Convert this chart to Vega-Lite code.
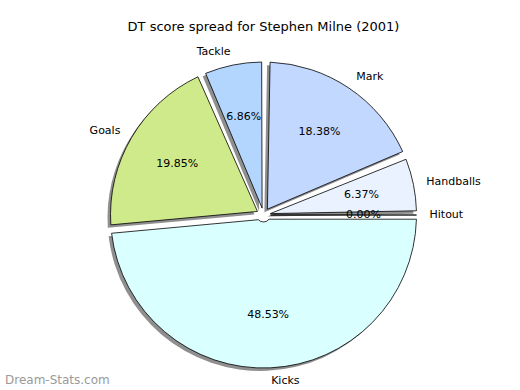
{
  "$schema": "https://vega.github.io/schema/vega-lite/v6.json",
  "width": 520,
  "height": 390,
  "autosize": {"type": "fit", "contains": "padding"},
  "padding": {"top": 21, "bottom": 0, "left": 5, "right": 5},
  "background": "white",
  "config": {"view": {"stroke": null}},
  "title": {
    "text": "DT score spread for Stephen Milne (2001)",
    "font": "DejaVu Sans",
    "fontSize": 13,
    "fontWeight": "normal",
    "color": "black",
    "offset": 6
  },
  "data": {
    "values": [
      {"label": "Hitout", "pct": 0.0},
      {"label": "Handballs", "pct": 0.0637},
      {"label": "Mark", "pct": 0.1838},
      {"label": "Tackle", "pct": 0.0686},
      {"label": "Goals", "pct": 0.1985},
      {"label": "Kicks", "pct": 0.4853}
    ]
  },
  "transform": [{"stack": "pct", "groupby": [], "as": ["v0", "v1"]}],
  "resolve": {"scale": {"theta": "shared"}},
  "layer": [
    {
      "mark": {"type": "arc", "outerRadius": 153, "innerRadius": 7, "padAngle": 0.055, "fill": "#8f8f8f", "xOffset": -3, "yOffset": 3},
      "encoding": {
        "theta": {"field": "v0", "type": "quantitative", "stack": null, "scale": {"domain": [0, 0.9999], "range": [1.5708, -4.7124]}},
        "theta2": {"field": "v1"}
      }
    },
    {
      "mark": {"type": "arc", "outerRadius": 153, "innerRadius": 7, "padAngle": 0.055, "stroke": "black", "strokeWidth": 0.8},
      "encoding": {
        "theta": {"field": "v0", "type": "quantitative", "stack": null},
        "theta2": {"field": "v1"},
        "color": {
          "field": "label",
          "type": "nominal",
          "legend": null,
          "scale": {
            "domain": ["Hitout", "Handballs", "Mark", "Tackle", "Goals", "Kicks"],
            "range": ["#ffffff", "#EBF2FF", "#C3D8FF", "#B3D6FF", "#CFEA8B", "#D9FFFF"]
          }
        }
      }
    },
    {
      "mark": {"type": "text", "radius": 100, "font": "DejaVu Sans", "fontSize": 11, "color": "black", "baseline": "middle", "align": "center"},
      "encoding": {
        "theta": {"field": "pct", "type": "quantitative", "stack": true},
        "order": {"field": "v0", "type": "quantitative"},
        "text": {"field": "pct", "type": "quantitative", "format": ".2%"}
      }
    },
    {
      "mark": {
        "type": "text",
        "radius": 166,
        "font": "DejaVu Sans",
        "fontSize": 11,
        "color": "black",
        "baseline": "middle",
        "align": {"expr": "datum.label == 'Tackle' || datum.label == 'Goals' ? 'right' : 'left'"}
      },
      "encoding": {
        "theta": {"field": "pct", "type": "quantitative", "stack": true},
        "order": {"field": "v0", "type": "quantitative"},
        "text": {"field": "label", "type": "nominal"}
      }
    },
    {
      "data": {"values": [{"mark": "Dream-Stats.com"}]},
      "mark": {"type": "text", "font": "DejaVu Sans", "fontSize": 12, "color": "#9a9a9a", "align": "left", "baseline": "middle", "dx": -7, "dy": -10},
      "encoding": {
        "text": {"field": "mark", "type": "nominal"},
        "x": {"value": 0},
        "y": {"value": "height"}
      }
    }
  ]
}
